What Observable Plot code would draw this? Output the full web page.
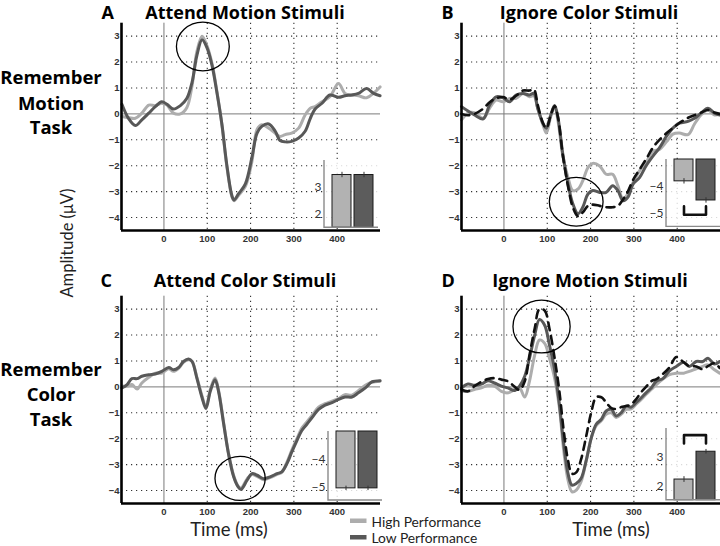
<!DOCTYPE html>
<html>
<head>
<meta charset="utf-8">
<script src="https://cdn.jsdelivr.net/npm/d3@7"></script>
<script src="https://cdn.jsdelivr.net/npm/@observablehq/plot@0.6"></script>
<style>
  html, body { margin: 0; padding: 0; background: #fff; }
  #fig { position: relative; width: 720px; height: 546px; overflow: hidden; background: #fff; }
  #fig svg { position: absolute; }
</style>
</head>
<body>
<div id="fig"></div>
<script>
// ---------- data: ERP waveforms (time in ms, amplitude in µV) ----------
const timeA = [-97,-82,-66,-51,-35,-20,-5,7,22,38,53,65,76,88,99,111,122,134,145,157,162,172,188,203,215,226,242,257,268,280,295,311,326,338,349,365,383,403,418,434,449,468,484,499];
const highA = [-0.1,-0.14,-0.17,0.03,0.34,0.32,0.41,0.34,0.03,0.0,0.25,1.1,2.4,3.0,2.65,1.95,0.9,-0.45,-2.0,-3.2,-3.35,-3.15,-2.8,-1.85,-0.6,-0.42,-0.55,-0.75,-0.87,-0.8,-0.74,-0.55,-0.04,0.22,0.28,0.47,0.66,1.17,0.79,0.73,0.7,0.62,0.8,1.04];
const lowA  = [0.37,-0.17,-0.45,-0.23,0.03,0.28,0.47,0.37,0.19,0.32,0.6,1.23,2.25,2.86,2.57,1.87,0.85,-0.42,-1.95,-3.16,-3.32,-3.09,-2.7,-1.69,-0.74,-0.48,-0.39,-0.67,-1.03,-1.08,-1.06,-0.93,-0.67,-0.17,0.19,0.41,0.73,0.64,0.7,0.73,0.79,0.98,0.79,0.7];

const timeB = [-98,-83,-68,-48,-33,-18,-2,13,28,44,59,69,78,90,98,108,117,125,136,148,159,171,182,194,205,221,236,251,263,275,286,298,313,328,344,359,375,390,405,425,440,455,471,486,498];
const highB = [-0.23,0.03,0.05,-0.17,0.22,0.53,0.47,0.6,0.6,0.79,0.66,0.7,0.22,-0.42,-0.74,-0.1,0.28,-0.29,-1.63,-2.46,-2.96,-2.9,-2.58,-2.07,-1.91,-2.01,-2.33,-2.33,-2.77,-3.28,-3.09,-2.65,-2.2,-1.88,-1.44,-1.37,-1.08,-0.78,-0.74,-0.8,-0.39,-0.04,0.15,-0.04,-0.01];
const lowB  = [0.28,0.11,-0.04,-0.19,0.34,0.66,0.62,0.47,0.73,0.79,0.73,0.79,0.22,-0.36,-0.55,-0.04,0.32,-0.17,-1.56,-2.71,-3.47,-3.85,-3.6,-3.09,-2.96,-3.03,-3.03,-2.77,-2.96,-3.35,-3.22,-2.71,-2.46,-2.01,-1.63,-1.31,-0.87,-0.55,-0.36,-0.29,-0.17,0.03,0.22,0.03,-0.04];
const dashB = [0.0,-0.05,0.0,0.2,0.45,0.6,0.65,0.55,0.7,0.9,0.9,0.95,0.35,-0.35,-0.55,-0.05,0.3,-0.15,-1.6,-2.8,-3.6,-3.95,-3.8,-3.55,-3.5,-3.55,-3.6,-3.6,-3.55,-3.3,-3.0,-2.55,-2.15,-1.75,-1.3,-1.0,-0.75,-0.55,-0.35,-0.15,-0.05,0.05,0.15,0.05,0.0];

const timeC = [-97,-85,-74,-62,-51,-35,-20,-5,11,22,34,45,57,65,76,88,97,107,118,126,138,149,161,171,178,192,203,215,230,245,261,272,284,295,307,318,330,342,357,372,388,403,418,434,449,465,480,499];
const highC = [0.03,0.03,0.09,-0.08,0.15,0.37,0.53,0.53,0.7,0.6,0.72,0.95,1.05,0.98,0.38,-0.35,-0.78,-0.1,0.34,-0.12,-1.4,-2.55,-3.42,-3.82,-3.9,-3.55,-3.38,-3.45,-3.58,-3.5,-3.38,-3.3,-2.9,-2.45,-2.0,-1.6,-1.35,-1.1,-0.78,-0.65,-0.55,-0.45,-0.3,-0.32,-0.15,0.06,0.18,0.22];
const lowC  = [-0.04,0.09,0.32,0.32,0.41,0.47,0.5,0.6,0.75,0.66,0.75,0.98,1.08,0.98,0.34,-0.42,-0.83,-0.17,0.28,-0.17,-1.44,-2.58,-3.47,-3.85,-3.96,-3.6,-3.35,-3.41,-3.54,-3.47,-3.35,-3.28,-2.96,-2.52,-2.07,-1.69,-1.44,-1.18,-0.87,-0.7,-0.61,-0.48,-0.39,-0.39,-0.23,-0.04,0.19,0.24];

const timeD = [-98,-83,-68,-52,-37,-22,-6,9,25,36,48,59,71,82,94,105,117,128,138,148,157,167,178,190,202,213,225,236,248,259,271,282,294,305,317,328,340,352,367,382,398,415,428,444,459,471,486,498];
const highD = [-0.17,-0.17,-0.1,-0.04,0.06,0.03,-0.17,-0.23,-0.1,-0.04,-0.39,0.22,1.23,1.81,1.68,1.11,0.34,-0.8,-2.46,-3.6,-4.05,-3.98,-3.66,-2.84,-1.95,-1.5,-1.3,-1.06,-1.0,-1.18,-1.05,-0.87,-0.85,-0.67,-0.48,-0.29,-0.1,0.09,0.3,0.47,0.53,0.53,0.6,0.7,0.79,0.85,0.66,0.53];
const lowD  = [-0.04,0.11,0.06,0.11,0.24,0.15,0.03,-0.04,-0.14,0.03,0.41,1.11,2.0,2.6,2.38,1.62,0.66,-0.67,-2.2,-3.35,-3.79,-3.73,-3.54,-2.84,-1.95,-1.44,-1.25,-0.93,-0.87,-1.12,-0.99,-0.74,-0.78,-0.61,-0.42,-0.23,-0.04,0.22,0.32,0.62,0.79,0.95,0.79,0.98,0.98,1.11,0.88,0.98];
const dashD = [-0.1,-0.17,0.03,0.2,0.3,0.34,0.28,0.22,0.0,-0.12,0.22,1.23,2.25,3.0,2.95,2.25,1.11,-0.17,-1.69,-2.84,-3.35,-3.3,-2.8,-1.9,-0.95,-0.4,-0.4,-0.6,-0.82,-0.85,-0.78,-0.74,-0.67,-0.48,-0.2,0.0,0.22,0.3,0.5,0.75,1.15,0.95,0.8,0.79,0.68,0.8,0.92,0.73];

// highlighted windows (ellipse centre time, amplitude; half-widths in ms and µV)
const ringT  = [91, 168, 177, 88];
const ringV  = [2.58, -3.41, -3.55, 2.31];
const ringRT = [61, 62, 58, 66];
const ringRV = [0.94, 0.94, 0.85, 1.02];

// axis ticks
const xTicks = [0, 100, 200, 300, 400];
const yTicks = [-4, -3, -2, -1, 0, 1, 2, 3];

// inset bar charts (mean amplitude by group)
const groups = ["High Performance", "Low Performance"];
const barA = [3.46, 3.46], errA = [0.1, 0.1];
const barB = [-3.81, -4.52], errB = [0.1, 0.1];
const barC = [-5.06, -5.06], errC = [0.08, 0.08];
const barD = [2.22, 3.19], errD = [0.1, 0.08];
const bracketB = [-4.74, -5.05];   // end, level
const bracketD = [3.48, 3.77];

const panelTitles = ["Attend Motion Stimuli", "Ignore Color Stimuli", "Attend Color Stimuli", "Ignore Motion Stimuli"];
const panelLetters = ["A", "B", "C", "D"];
const rowLabels = [["Remember", "Motion", "Task"], ["Remember", "Color", "Task"]];

// ---------- styles ----------
const LIGHT = "#adadad", DARK = "#585858";
const LIGHT_BAR = "#b2b2b2", DARK_BAR = "#5c5c5c";
const fig = document.getElementById("fig");
const SVGNS = "http://www.w3.org/2000/svg";
const BOLD_FONT = "'Open Sans', Lato, sans-serif";
const BODY_FONT = "Lato, 'Open Sans', sans-serif";

// ---------- text layer ----------
const overlay = d3.select(fig).append("svg").attr("width", 720).attr("height", 546)
  .style("left", "0px").style("top", "0px");
function txt(x, y, s, opts = {}) {
  const t = overlay.append("text").attr("x", x).attr("y", y).text(s)
    .attr("font-family", opts.family || BOLD_FONT)
    .attr("font-size", opts.size || 18)
    .attr("font-weight", opts.weight || "bold")
    .attr("fill", opts.fill || "#000")
    .attr("text-anchor", opts.anchor || "start");
  if (opts.rotate) t.attr("transform", `rotate(${opts.rotate},${x},${y})`);
  return t;
}
const letterPos = [[101.5, 18.5], [441.5, 18.5], [100.5, 287], [441.5, 287]];
const titlePos = [[245, 18.5], [589, 18.5], [245, 287], [590, 287]];
panelLetters.forEach((L, i) => txt(letterPos[i][0], letterPos[i][1], L, {size: 18}));
panelTitles.forEach((T, i) => txt(titlePos[i][0], titlePos[i][1], T, {size: 18, anchor: "middle"}));
const rowBase = [[83.5, 109.5, 134], [375.7, 401, 425.7]];
rowLabels.forEach((lines, r) => lines.forEach((s, k) => txt(51, rowBase[r][k], s, {size: 18.5, anchor: "middle"})));
txt(67, 243, "Amplitude (μV)", {family: BODY_FONT, size: 16.5, weight: "normal", anchor: "middle", rotate: -90, fill: "#222"})
  .attr("dominant-baseline", "central");
txt(229, 535.5, "Time (ms)", {family: BODY_FONT, size: 18.5, weight: "normal", anchor: "middle", fill: "#222"});
txt(611, 535.5, "Time (ms)", {family: BODY_FONT, size: 18.5, weight: "normal", anchor: "middle", fill: "#222"});
// legend
const legendColors = [LIGHT, DARK];
groups.forEach((g, i) => {
  overlay.append("rect").attr("x", 350).attr("y", 518.5 + i * 16.5).attr("width", 16.5).attr("height", 4.5).attr("fill", legendColors[i]);
  txt(371.5, 526.5 + i * 16.5, g, {family: BODY_FONT, size: 13.8, weight: "normal", fill: "#222"});
});

// ---------- main ERP panels ----------
function ringMark(k) {
  return (index, scales) => {
    const cx = scales.x(ringT[k]), cy = scales.y(ringV[k]);
    const rx = Math.abs(scales.x(ringT[k] + ringRT[k]) - cx);
    const ry = Math.abs(scales.y(ringV[k] + ringRV[k]) - cy);
    const e = document.createElementNS(SVGNS, "ellipse");
    e.setAttribute("cx", cx); e.setAttribute("cy", cy);
    e.setAttribute("rx", rx); e.setAttribute("ry", ry);
    e.setAttribute("fill", "none"); e.setAttribute("stroke", "#000"); e.setAttribute("stroke-width", 1.3);
    return e;
  };
}

function panel(k, time, high, low, dash, left, top) {
  const chart = Plot.plot({
    width: 390, height: 250,
    marginLeft: 121, marginRight: 10, marginTop: 22.7, marginBottom: 20,
    x: {domain: [-98, 500], ticks: xTicks, tickSize: 0, tickPadding: 5, label: null},
    y: {domain: [-4.5, 3.5], ticks: yTicks, tickSize: 0, tickPadding: 2, label: null},
    style: {background: "transparent", fontFamily: "'Liberation Sans', Arial, sans-serif", fontSize: "9.5px", fontWeight: "bold", color: "#333", overflow: "visible"},
    marks: [
      Plot.ruleY(yTicks.filter(v => v !== 0), {stroke: "#333", strokeWidth: 1.1, strokeDasharray: "1.2,3.8"}),
      Plot.ruleX(xTicks.filter(v => v !== 0), {stroke: "#333", strokeWidth: 1.1, strokeDasharray: "1.2,3.8"}),
      Plot.ruleY([0], {stroke: "#7a7a7a", strokeWidth: 1}),
      Plot.ruleX([0], {stroke: "#7a7a7a", strokeWidth: 1}),
      Plot.line(high, {x: time, y: high, stroke: LIGHT, strokeWidth: 3, curve: "catmull-rom"}),
      Plot.line(low, {x: time, y: low, stroke: DARK, strokeWidth: 3, curve: "catmull-rom"}),
      dash ? Plot.line(dash, {x: time, y: dash, stroke: "#111", strokeWidth: 2.6, strokeDasharray: "8,6", curve: "catmull-rom"}) : null,
      ringMark(k),
      Plot.ruleX([-98], {stroke: "#000", strokeWidth: 2.6}),
      Plot.ruleY([-4.5], {stroke: "#000", strokeWidth: 2.6})
    ]
  });
  chart.style.left = left + "px";
  chart.style.top = top + "px";
  fig.appendChild(chart);
}
panel(0, timeA, highA, lowA, null, 0, 0);
panel(1, timeB, highB, lowB, dashB, 340, 0);
panel(2, timeC, highC, lowC, null, 0, 273);
panel(3, timeD, highD, lowD, dashD, 340, 273);

// ---------- inset bar charts ----------
function frameLines(index, scales, values, dims) {
  const {width, height, marginLeft, marginRight, marginTop, marginBottom} = dims;
  const p = document.createElementNS(SVGNS, "path");
  p.setAttribute("d", `M${marginLeft},${marginTop}V${height - marginBottom}H${width - marginRight}`);
  p.setAttribute("fill", "none"); p.setAttribute("stroke", "#8a8a8a"); p.setAttribute("stroke-width", 1.4);
  return p;
}
function inset(vals, errs, domain, base, ticks, bracket, plotLeft, plotTop, plotBottom) {
  const mL = 28, mR = 2, mT = 2, mB = 2, pw = 54;
  const chart = Plot.plot({
    width: mL + pw + mR, height: (plotBottom - plotTop) + mT + mB,
    marginLeft: mL, marginRight: mR, marginTop: mT, marginBottom: mB,
    x: {domain: groups, axis: null, paddingInner: 0.156, paddingOuter: 0.278, align: 0.6},
    y: {domain, ticks, tickFormat: d3.format("d"), tickSize: 0, tickPadding: 3, label: null},
    color: {domain: groups, range: [LIGHT_BAR, DARK_BAR]},
    style: {background: "transparent", fontFamily: BODY_FONT, fontSize: "12px", color: "#333", overflow: "visible"},
    marks: [
      Plot.frame({fill: "white", fillOpacity: 0.82, stroke: "none"}),
      Plot.barY(groups, {x: groups, y1: groups.map(() => base), y2: vals, fill: groups, stroke: "#1a1a1a", strokeWidth: 1}),
      Plot.ruleX(groups, {x: groups, y1: vals.map((v, i) => v - errs[i]), y2: vals.map((v, i) => v + errs[i]), stroke: "#333", strokeWidth: 1}),
      bracket ? Plot.line([0, 1, 2, 3], {
        x: [groups[0], groups[0], groups[1], groups[1]],
        y: [bracket[0], bracket[1], bracket[1], bracket[0]],
        stroke: "#111", strokeWidth: 2.6, curve: "linear"}) : null,
      frameLines
    ]
  });
  chart.style.left = (plotLeft - mL) + "px";
  chart.style.top = (plotTop - mT) + "px";
  fig.appendChild(chart);
}
inset(barA, errA, [1.5, 4], 1.5, [2, 3], null, 324.3, 159.5, 226.7);
inset(barB, errB, [-5.5, -3], -3, [-5, -4], bracketB, 666, 159.3, 226.7);
inset(barC, errC, [-5.5, -3], -3, [-5, -4], null, 328, 431, 500);
inset(barD, errD, [1.5, 4], 1.5, [2, 3], bracketD, 666, 428, 499.7);
</script>
</body>
</html>
